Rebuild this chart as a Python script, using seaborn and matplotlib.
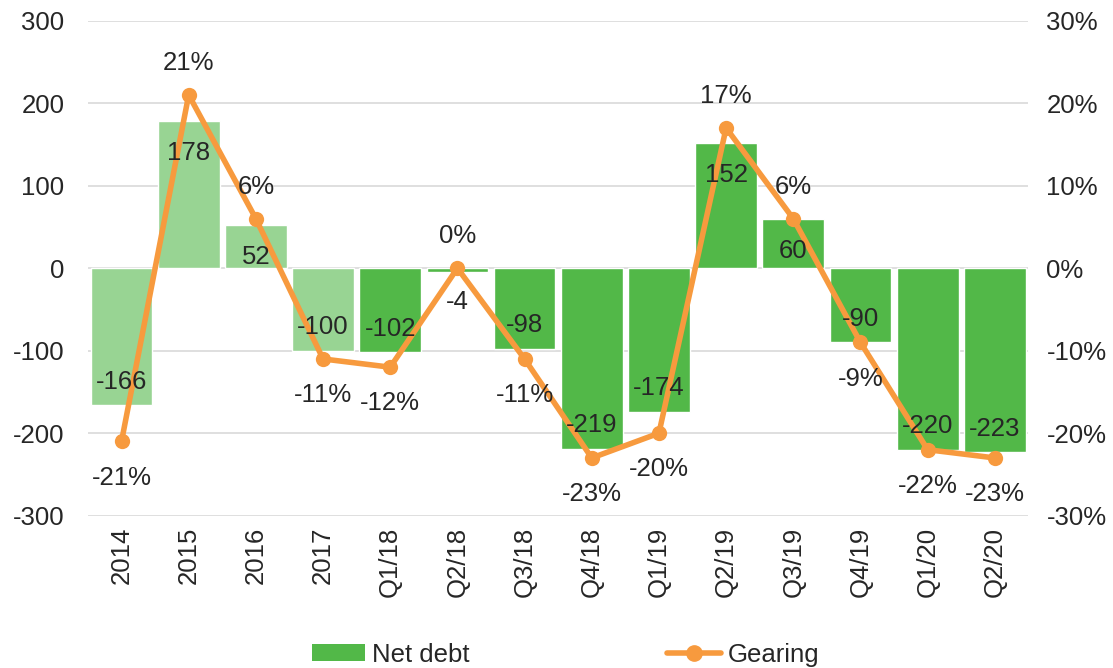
import pandas as pd
import numpy as np
import matplotlib.pyplot as plt
import seaborn as sns
from matplotlib.patches import Patch
from matplotlib.lines import Line2D

sns.set_style("white")
plt.rcParams['font.family'] = ['Liberation Sans', 'DejaVu Sans']
plt.rcParams['axes.unicode_minus'] = False

# data
periods = ["2014", "2015", "2016", "2017", "Q1/18", "Q2/18", "Q3/18", "Q4/18",
           "Q1/19", "Q2/19", "Q3/19", "Q4/19", "Q1/20", "Q2/20"]
net_debt = [-166, 178, 52, -100, -102, -4, -98, -219, -174, 152, 60, -90, -220, -223]
gearing = [-21, 21, 6, -11, -12, 0, -11, -23, -20, 17, 6, -9, -22, -23]
is_annual = [True, True, True, True, False, False, False, False,
             False, False, False, False, False, False]

light_green = "#98D493"
dark_green = "#52B848"
orange = "#F79A3E"
fs = 18.5

df = pd.DataFrame({"period": periods, "net_debt": net_debt, "gearing": gearing})
df["pos"] = np.arange(len(df))
colors = [light_green if a else dark_green for a in is_annual]

fig = plt.figure(figsize=(11.13, 6.68), dpi=100)
ax = fig.add_axes([0.079, 0.228, 0.845, 0.741])

sns.barplot(data=df, x="period", y="net_debt", hue="period", palette=colors,
            legend=False, width=0.92, ax=ax, saturation=1, zorder=2)
ax.set_ylim(-300, 300)
ax.set_yticks(range(-300, 301, 100))
ax.yaxis.grid(True, color="#D9D9D9", linewidth=1.2, zorder=0)
ax.set_axisbelow(True)
ax.set_xlim(-0.5, len(df) - 0.5)
ax.set_xlabel("")
ax.set_ylabel("")
ax.tick_params(axis="x", rotation=90, labelsize=fs, length=0, pad=8)
ax.tick_params(axis="y", labelsize=fs, length=0, pad=17)
for s in ax.spines.values():
    s.set_visible(False)

ax2 = ax.twinx()
sns.lineplot(data=df, x="pos", y="gearing", color=orange, linewidth=4,
             marker="o", markersize=11, markeredgewidth=0, ax=ax2, zorder=4)
ax2.set_ylim(-30, 30)
ax2.set_yticks(range(-30, 31, 10))
ax2.set_yticklabels([f"{t}%" for t in range(-30, 31, 10)])
ax2.set_xlim(-0.5, len(df) - 0.5)
ax2.set_ylabel("")
ax2.tick_params(axis="y", labelsize=fs, length=0, pad=13)
for s in ax2.spines.values():
    s.set_visible(False)

# bar labels, inside the bar end (drawn on top axes so they sit over the line)
for i, v in enumerate(net_debt):
    off = -23 if v > 0 else 17
    if v == -4:
        off = -22
    ax2.annotate(str(v), (i, v), xycoords=ax.transData, xytext=(0, off),
                 textcoords="offset points", ha="center", va="center",
                 fontsize=fs, zorder=6)

for i, g in enumerate(gearing):
    off = 23 if g >= 0 else -26
    ax2.annotate(f"{g}%", (i, g), xytext=(0, off), textcoords="offset points",
                 ha="center", va="center", fontsize=fs, zorder=6)

handles = [Patch(facecolor=dark_green, edgecolor="none"),
           Line2D([0], [0], color=orange, linewidth=4, marker="o", markersize=11)]
fig.legend(handles, ["Net debt", "Gearing"], loc="center", bbox_to_anchor=(0.508, 0.02),
           ncol=2, frameon=False, fontsize=fs, columnspacing=7.7, handlelength=2.1,
           handleheight=0.6, handletextpad=0.25)

fig.savefig("out.png", dpi=100)
